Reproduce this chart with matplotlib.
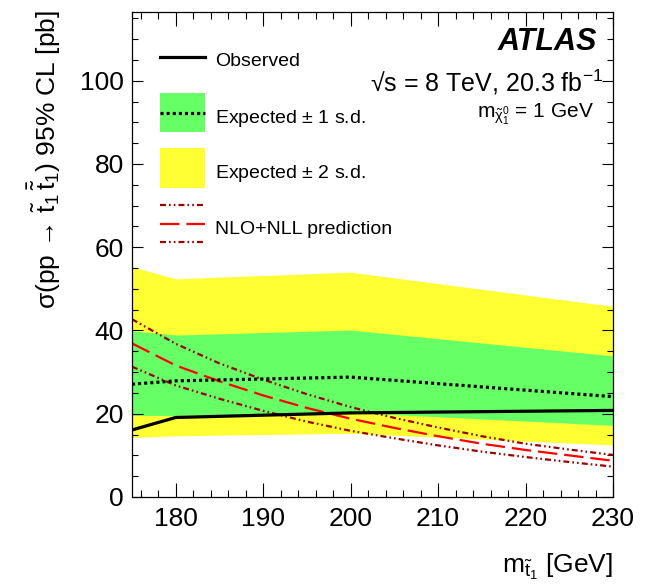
import matplotlib
matplotlib.use("Agg")
import matplotlib.pyplot as plt
from matplotlib.lines import Line2D
from matplotlib.patches import Rectangle
from matplotlib.ticker import MultipleLocator

plt.rcParams['font.family'] = ['Liberation Sans', 'DejaVu Sans']
plt.rcParams['mathtext.fontset'] = 'custom'
plt.rcParams['mathtext.rm'] = 'Liberation Sans'
plt.rcParams['mathtext.it'] = 'Liberation Sans'
plt.rcParams['mathtext.bf'] = 'Liberation Sans:bold'
plt.rcParams['mathtext.sf'] = 'Liberation Sans'
plt.rcParams['lines.scale_dashes'] = False

# ---- data ----
mass = [175, 180, 200, 230]
observed = [16.1, 19.1, 20.2, 20.8]
expected = [27.1, 27.9, 28.8, 24.1]
exp_p1 = [39.9, 38.9, 40.1, 33.9]
exp_m1 = [19.6, 19.6, 20.3, 17.2]
exp_p2 = [55.3, 52.4, 54.0, 45.8]
exp_m2 = [14.3, 14.7, 15.3, 12.5]

theo_mass = [175, 180, 185, 190, 195, 200, 205, 210, 215, 220, 225, 230]
theo_xsec = [36.9, 31.6, 27.8, 24.4, 21.4, 18.8, 16.6, 14.6, 12.8, 11.3, 10.0, 8.7]
theo_up = [42.7, 36.8, 32.1, 28.2, 24.7, 21.6, 19.0, 16.7, 14.6, 12.8, 11.4, 10.1]
theo_dn = [31.3, 26.8, 23.6, 20.7, 18.1, 15.9, 14.1, 12.4, 10.9, 9.6, 8.4, 7.3]

YELLOW = '#ffff33'
GREEN = '#66ff66'
RED = '#ff0000'
DARKRED = '#990000'

fig = plt.figure(figsize=(6.54, 5.86), dpi=100)
ax = fig.add_axes([132/654, 1-497/586, 481/654, 485/586])

ax.fill_between(mass, exp_m2, exp_p2, color=YELLOW, lw=0, zorder=1)
ax.fill_between(mass, exp_m1, exp_p1, color=GREEN, lw=0, zorder=2)

dd = (0, (4.3, 2.2, 1.2, 2.2, 1.2, 2.2))
ax.plot(theo_mass, theo_up, color=DARKRED, lw=1.6, ls=dd, zorder=3)
ax.plot(theo_mass, theo_dn, color=DARKRED, lw=1.6, ls=dd, zorder=3)
ax.plot(theo_mass, theo_xsec, color=RED, lw=1.6, ls=(0, (14, 5)), zorder=4)
ax.plot(mass, expected, color='black', lw=2.3, ls=(0, (2.2, 2.2)),
        dash_capstyle='butt', zorder=5)
ax.plot(mass, observed, color='black', lw=2.3, zorder=6)

ax.set_xlim(175, 230)
ax.set_ylim(0, 116.5)
ax.xaxis.set_major_locator(MultipleLocator(10))
ax.xaxis.set_minor_locator(MultipleLocator(2))
ax.yaxis.set_major_locator(MultipleLocator(20))
ax.yaxis.set_minor_locator(MultipleLocator(5))
ax.tick_params(which='both', direction='in', top=True, right=True,
               width=0.8, labelsize=19)
ax.tick_params(axis='x', which='major', length=10, pad=7)
ax.tick_params(axis='x', which='minor', length=5)
ax.tick_params(axis='y', which='major', length=8, pad=6)
ax.tick_params(axis='y', which='minor', length=4)
for s in ax.spines.values():
    s.set_linewidth(0.9)
    s.set_zorder(10)
ax.set_axisbelow(False)

ax.text(1.0, -0.157, r'm$_{\tilde{\mathrm{t}}_1}$ [GeV]', transform=ax.transAxes,
        ha='right', va='baseline', fontsize=19)
ax.text(-0.183, 1.004,
        r'$\sigma(\mathrm{pp}\,\rightarrow\,\tilde{\mathrm{t}}_1\,\bar{\tilde{\mathrm{t}}}_1)$ 95% CL [pb]',
        transform=ax.transAxes, rotation=90, ha='center', va='top', fontsize=19)

# annotations
ax.text(0.966, 0.939, 'ATLAS', transform=ax.transAxes, ha='right', va='center',
        fontsize=22, fontweight='bold', fontstyle='italic')
ax.text(0.979, 0.856, '\u221as = 8 TeV, 20.3 fb$^{-1}$', transform=ax.transAxes,
        ha='right', va='center', fontsize=18)
ax.text(0.960, 0.788, r'm$_{\tilde{\chi}_1^0}$ = 1 GeV', transform=ax.transAxes,
        ha='right', va='center', fontsize=15)

# legend (drawn manually)
T = ax.transAxes
x0, x1 = 0.058, 0.152
xt = 0.173
ax.add_line(Line2D([x0, x1], [0.907, 0.907], transform=T, color='black', lw=2.3, zorder=20))
ax.text(xt, 0.897, 'Observed', transform=T, va='center', fontsize=14)
ax.add_patch(Rectangle((x0, 0.753), x1-x0, 0.079, transform=T, color=GREEN, lw=0, zorder=20))
ax.add_line(Line2D([x0, x1], [0.792, 0.792], transform=T, color='black', lw=2.3,
                   ls=(0, (2.2, 2.2)), dash_capstyle='butt', zorder=21))
ax.text(xt, 0.781, r'Expected $\pm$ 1 s.d.', transform=T, va='center', fontsize=14)
ax.add_patch(Rectangle((x0, 0.638), x1-x0, 0.081, transform=T, color=YELLOW, lw=0, zorder=20))
ax.text(xt, 0.666, r'Expected $\pm$ 2 s.d.', transform=T, va='center', fontsize=14)
ax.add_line(Line2D([x0, x1], [0.602, 0.602], transform=T, color=DARKRED, lw=1.6, ls=dd, zorder=20))
ax.add_line(Line2D([x0, x1], [0.563, 0.563], transform=T, color=RED, lw=1.6, ls=(0, (14, 5)), zorder=20))
ax.add_line(Line2D([x0, x1], [0.525, 0.525], transform=T, color=DARKRED, lw=1.6, ls=dd, zorder=20))
ax.text(xt, 0.552, 'NLO+NLL prediction', transform=T, va='center', fontsize=14)

fig.savefig('out.png', dpi=100)
